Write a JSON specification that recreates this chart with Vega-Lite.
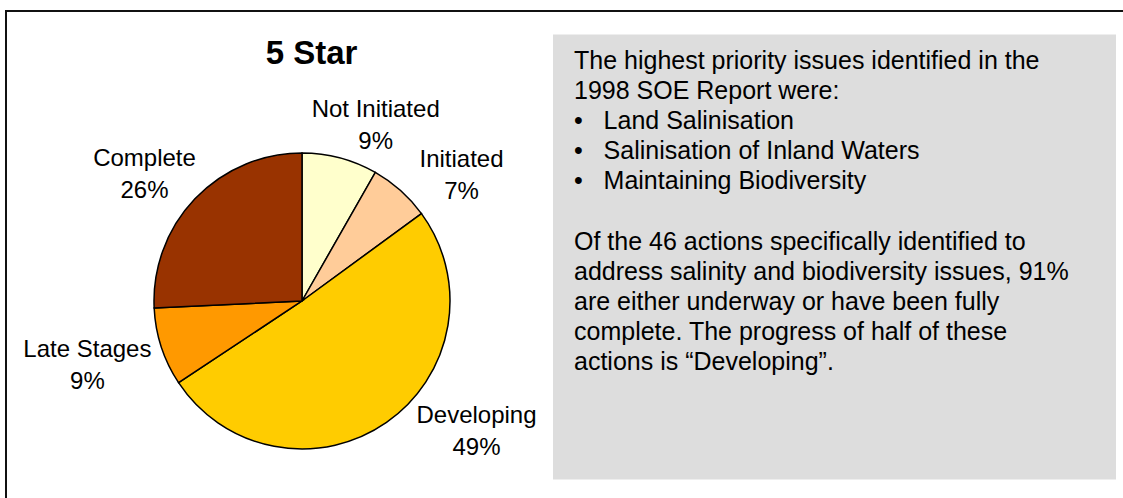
{
  "$schema": "https://vega.github.io/schema/vega-lite/v6.json",
  "width": 1123,
  "height": 498,
  "autosize": {"type": "fit", "contains": "padding"},
  "padding": {"left": 6, "top": 11, "right": -4, "bottom": -4},
  "background": "white",
  "config": {
    "font": "Liberation Sans",
    "view": {"stroke": "#111111", "strokeWidth": 2}
  },
  "datasets": {
    "slices": [
      {"idx": 1, "status": "Not Initiated", "share": 8.25, "label": ["Not Initiated", "9%"]},
      {"idx": 2, "status": "Initiated", "share": 6.7, "label": ["Initiated", "7%"]},
      {"idx": 3, "status": "Developing", "share": 50.75, "label": ["Developing", "49%"]},
      {"idx": 4, "status": "Late Stages", "share": 8.55, "label": ["Late Stages", "9%"]},
      {"idx": 5, "status": "Complete", "share": 25.75, "label": ["Complete", "26%"]}
    ],
    "notes": [
      {"line": 1, "text": "The highest priority issues identified in the"},
      {"line": 2, "text": "1998 SOE Report were:"},
      {"line": 3, "text": "•\u00a0\u00a0\u00a0Land Salinisation"},
      {"line": 4, "text": "•\u00a0\u00a0\u00a0Salinisation of Inland Waters"},
      {"line": 5, "text": "•\u00a0\u00a0\u00a0Maintaining Biodiversity"},
      {"line": 7, "text": "Of the 46 actions specifically identified to"},
      {"line": 8, "text": "address salinity and biodiversity issues, 91%"},
      {"line": 9, "text": "are either underway or have been fully"},
      {"line": 10, "text": "complete. The progress of half of these"},
      {"line": 11, "text": "actions is “Developing”."}
    ]
  },
  "layer": [
    {
      "data": {"values": [{}]},
      "mark": {"type": "rect", "x": 547, "x2": 1110, "y": 23.5, "y2": 468.5, "fill": "#DDDDDD", "stroke": null},
      "encoding": {}
    },
    {
      "data": {"values": [{}]},
      "mark": {"type": "text", "text": "5 Star", "x": 305.5, "y": 53, "align": "center", "baseline": "alphabetic", "fontSize": 33, "fontWeight": "bold", "color": "#000000"},
      "encoding": {}
    },
    {
      "data": {"name": "notes"},
      "mark": {"type": "text", "x": 568, "align": "left", "baseline": "alphabetic", "fontSize": 25, "color": "#000000"},
      "encoding": {
        "y": {"field": "line", "type": "quantitative", "scale": {"domain": [1, 11], "range": [58, 359], "nice": false, "zero": false}, "axis": null},
        "text": {"field": "text", "type": "nominal"}
      }
    },
    {
      "data": {"name": "slices"},
      "mark": {"type": "arc", "x": 296, "y": 290, "radius": 148, "stroke": "#000000", "strokeWidth": 1.5},
      "encoding": {
        "theta": {"field": "share", "type": "quantitative", "stack": true},
        "order": {"field": "idx", "type": "quantitative"},
        "color": {
          "field": "status",
          "type": "nominal",
          "scale": {
            "domain": ["Not Initiated", "Initiated", "Developing", "Late Stages", "Complete"],
            "range": ["#FFFFCC", "#FFCC99", "#FFCC00", "#FF9900", "#993300"]
          },
          "legend": null
        }
      }
    },
    {
      "data": {"name": "slices"},
      "mark": {
        "type": "text",
        "x": 296,
        "y": 290,
        "radius": 190,
        "fontSize": 24,
        "lineHeight": 32,
        "align": "center",
        "baseline": "alphabetic",
        "color": "#000000",
        "dx": {"expr": "datum.status === 'Not Initiated' ? 25 : datum.status === 'Initiated' ? 33 : datum.status === 'Developing' ? 66 : datum.status === 'Late Stages' ? -34 : -20"},
        "dy": {"expr": "datum.status === 'Not Initiated' ? 0 : datum.status === 'Initiated' ? 8 : datum.status === 'Developing' ? -34 : datum.status === 'Late Stages' ? -3 : -4"}
      },
      "encoding": {
        "theta": {"field": "share", "type": "quantitative", "stack": true},
        "order": {"field": "idx", "type": "quantitative"},
        "text": {"field": "label", "type": "nominal"}
      }
    }
  ]
}
